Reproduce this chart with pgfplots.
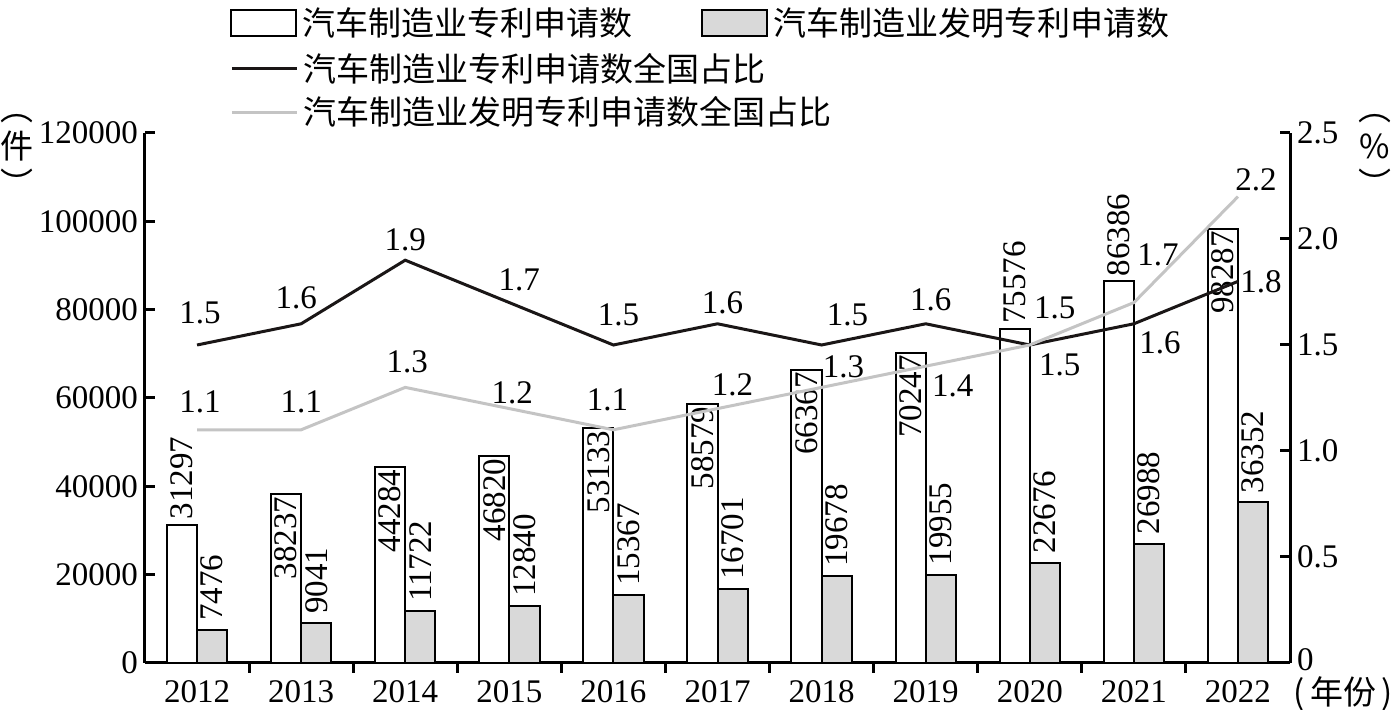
\documentclass[border=0pt]{standalone}
\usepackage{pgfplots}
\pgfplotsset{compat=1.18}
\usepackage{pgfplotstable}
\usepackage{fontspec}
\setmainfont{Liberation Serif}
\newfontfamily\cjk{Noto Sans CJK SC}
\newcommand\numf{\fontsize{16.5}{19}\selectfont}
\newcommand\cjkf{\cjk\fontsize{16.5}{19}\selectfont}
\definecolor{barg}{HTML}{D9D9D9}
\definecolor{lineg}{HTML}{C4C4C4}
\definecolor{lineb}{HTML}{1A1616}

\pgfplotstableread{
x a b
0 31297 7476
1 38237 9041
2 44284 11722
3 46820 12840
4 53133 15367
5 58579 16701
6 66367 19678
7 70247 19955
8 75576 22676
9 86386 26988
10 98287 36352
}\bars

\pgfplotstableread{
x p q
0 1.5 1.1
1 1.6 1.1
2 1.9 1.3
3 1.7 1.2
4 1.5 1.1
5 1.6 1.2
6 1.5 1.3
7 1.6 1.4
8 1.5 1.5
9 1.6 1.7
10 1.8 2.2
}\shares

\pgfplotsset{base/.style={scale only axis, width=572.5pt, height=265pt,
  xmin=-0.5, xmax=10.5, tick align=inside, major tick length=5pt,
  tick style={line width=1.5pt, black},
  axis line style={line width=1.5pt, -},
  ticklabel style={font=\numf},
  /pgf/number format/assume math mode=true, clip=false}}

\tikzset{
  va/.style={rotate=90, font=\numf, anchor=west, inner ysep=0pt, inner xsep=2.5pt},
  vi/.style={rotate=90, font=\numf, anchor=east, inner ysep=0pt, inner xsep=1pt},
  vg/.style={rotate=90, font=\numf, anchor=west, inner ysep=0pt, inner xsep=4.5pt},
  ll/.style={font=\numf, inner sep=0pt, anchor=center}
}

\begin{document}
\begin{tikzpicture}
\useasboundingbox (-72.5pt,-23.5pt) rectangle (627.5pt,331.5pt);
\begin{axis}[base, ymin=0, ymax=120000, ytick={0,20000,...,120000},
  scaled y ticks=false,
  yticklabel style={/pgf/number format/fixed, /pgf/number format/1000 sep={}},
  axis y line*=left, axis x line*=bottom,
  xtick={0,...,10}, xticklabels={2012,2013,2014,2015,2016,2017,2018,2019,2020,2021,2022},
  major x tick style={draw=none},
  minor xtick={0.5,1.5,...,9.5}, minor tick length=5pt,
  minor x tick style={line width=1.5pt, black},
  ybar=0pt, bar width=0.29,
  legend columns=-1,
  legend style={draw=none, fill=none, at={(0,1)}, anchor=north west,
    xshift=42.5pt, yshift=64pt, font=\cjkf, inner sep=0pt,
    nodes={inner xsep=2.5pt, inner ysep=1pt},
    /tikz/every even column/.append style={column sep=32pt}},
]
\addplot[draw=black, fill=white, line width=1pt, bar shift=-0.145,
  legend image code/.code={\draw[draw=black, fill=white, line width=1pt] (0pt,-6.5pt) rectangle (32.5pt,6.5pt);}]
  table[x=x, y=a]{\bars};
\addlegendentry{汽车制造业专利申请数}
\addplot[draw=black, fill=barg, line width=1pt, bar shift=0.145,
  legend image code/.code={\draw[draw=black, fill=barg, line width=1pt] (0pt,-6.5pt) rectangle (32.5pt,6.5pt);}]
  table[x=x, y=b]{\bars};
\addlegendentry{汽车制造业发明专利申请数}

\node[va] at (axis cs:-0.145,31297) {31297};
\node[vi] at (axis cs:0.855,38237) {38237};
\node[vi] at (axis cs:1.855,44284) {44284};
\node[vi] at (axis cs:2.855,46820) {46820};
\node[vi] at (axis cs:3.855,53133) {53133};
\node[vi] at (axis cs:4.855,58579) {58579};
\node[vi] at (axis cs:5.855,66367) {66367};
\node[vi] at (axis cs:6.855,70247) {70247};
\node[va] at (axis cs:7.855,75576) {75576};
\node[va] at (axis cs:8.855,86386) {86386};
\node[vi] at (axis cs:9.855,98287) {98287};

\node[vg] at (axis cs:0.145,7476) {7476};
\node[vg] at (axis cs:1.145,9041) {9041};
\node[vg] at (axis cs:2.145,11722) {11722};
\node[vg] at (axis cs:3.145,12840) {12840};
\node[vg] at (axis cs:4.145,15367) {15367};
\node[vg] at (axis cs:5.145,16701) {16701};
\node[vg] at (axis cs:6.145,19678) {19678};
\node[vg] at (axis cs:7.145,19955) {19955};
\node[vg] at (axis cs:8.145,22676) {22676};
\node[vg] at (axis cs:9.145,26988) {26988};
\node[vg] at (axis cs:10.145,36352) {36352};

\node[font=\cjkf, align=center, inner sep=0pt] at (rel axis cs:0,1) [xshift=-64pt, yshift=-11pt]
  {\fontsize{16.5}{14}\selectfont ︵\\件\\︶};
\node[font=\cjkf, anchor=west, inner sep=0pt, text height=12.5pt, text depth=1.5pt] at (rel axis cs:1,0) [xshift=1.5pt, yshift=-15.5pt] {{\numf(}\,年份\,{\numf)}};
\end{axis}

\begin{axis}[base, ymin=0, ymax=2.5, ytick={0,0.5,...,2.5},
  yticklabels={\raisebox{3pt}{0},0.5,1.0,1.5,2.0,2.5},
  yticklabel style={inner ysep=0pt},
  axis y line*=right, axis x line=none,
  legend cell align=left,
  legend style={draw=none, fill=none, at={(0,1)}, anchor=north west,
    xshift=42.5pt, yshift=43pt, font=\cjkf, inner sep=0pt,
    nodes={inner xsep=2.5pt, inner ysep=3pt}, row sep=0pt},
]
\addplot[lineb, line width=1.5pt, mark=none,
  legend image code/.code={\draw[lineb, line width=1.5pt] (0pt,0pt) -- (32.5pt,0pt);}]
  table[x=x, y=p]{\shares};
\addlegendentry{汽车制造业专利申请数全国占比}
\addplot[lineg, line width=1.5pt, mark=none,
  legend image code/.code={\draw[lineg, line width=1.5pt] (0pt,0pt) -- (32.5pt,0pt);}]
  table[x=x, y=q]{\shares};
\addlegendentry{汽车制造业发明专利申请数全国占比}

\node[ll] at (axis cs:0,1.5) [xshift=1.5pt, yshift=16pt] {1.5};
\node[ll] at (axis cs:1,1.6) [xshift=-2.5pt, yshift=13pt] {1.6};
\node[ll] at (axis cs:2,1.9) [xshift=0pt, yshift=10pt] {1.9};
\node[ll] at (axis cs:3,1.7) [xshift=5pt, yshift=11.5pt] {1.7};
\node[ll] at (axis cs:4,1.5) [xshift=2.5pt, yshift=15pt] {1.5};
\node[ll] at (axis cs:5,1.6) [xshift=2.5pt, yshift=10.5pt] {1.6};
\node[ll] at (axis cs:6,1.5) [xshift=13pt, yshift=15pt] {1.5};
\node[ll] at (axis cs:7,1.6) [xshift=2.5pt, yshift=12pt] {1.6};
\node[ll] at (axis cs:8,1.5) [xshift=12.5pt, yshift=18.5pt] {1.5};
\node[ll] at (axis cs:9,1.6) [xshift=13pt, yshift=-9.5pt] {1.6};
\node[ll] at (axis cs:10,1.8) [xshift=11.5pt, yshift=0pt] {1.8};

\node[ll] at (axis cs:0,1.1) [xshift=1.5pt, yshift=14pt] {1.1};
\node[ll] at (axis cs:1,1.1) [xshift=0pt, yshift=14pt] {1.1};
\node[ll] at (axis cs:2,1.3) [xshift=1pt, yshift=13pt] {1.3};
\node[ll] at (axis cs:3,1.2) [xshift=1.5pt, yshift=8pt] {1.2};
\node[ll] at (axis cs:4,1.1) [xshift=-3pt, yshift=15pt] {1.1};
\node[ll] at (axis cs:5,1.2) [xshift=7.5pt, yshift=12pt] {1.2};
\node[ll] at (axis cs:6,1.3) [xshift=11pt, yshift=10.5pt] {1.3};
\node[ll] at (axis cs:7,1.4) [xshift=13.5pt, yshift=-10pt] {1.4};
\node[ll] at (axis cs:8,1.5) [xshift=15pt, yshift=-10pt] {1.5};
\node[ll] at (axis cs:9,1.7) [xshift=12pt, yshift=24pt] {1.7};
\node[ll] at (axis cs:10,2.2) [xshift=9pt, yshift=8.5pt] {2.2};

\node[font=\cjkf, align=center, inner sep=0pt] at (rel axis cs:1,1) [xshift=42.5pt, yshift=-11pt]
  {\fontsize{16.5}{14}\selectfont ︵\\{\numf\%}\\︶};
\end{axis}
\end{tikzpicture}
\end{document}
